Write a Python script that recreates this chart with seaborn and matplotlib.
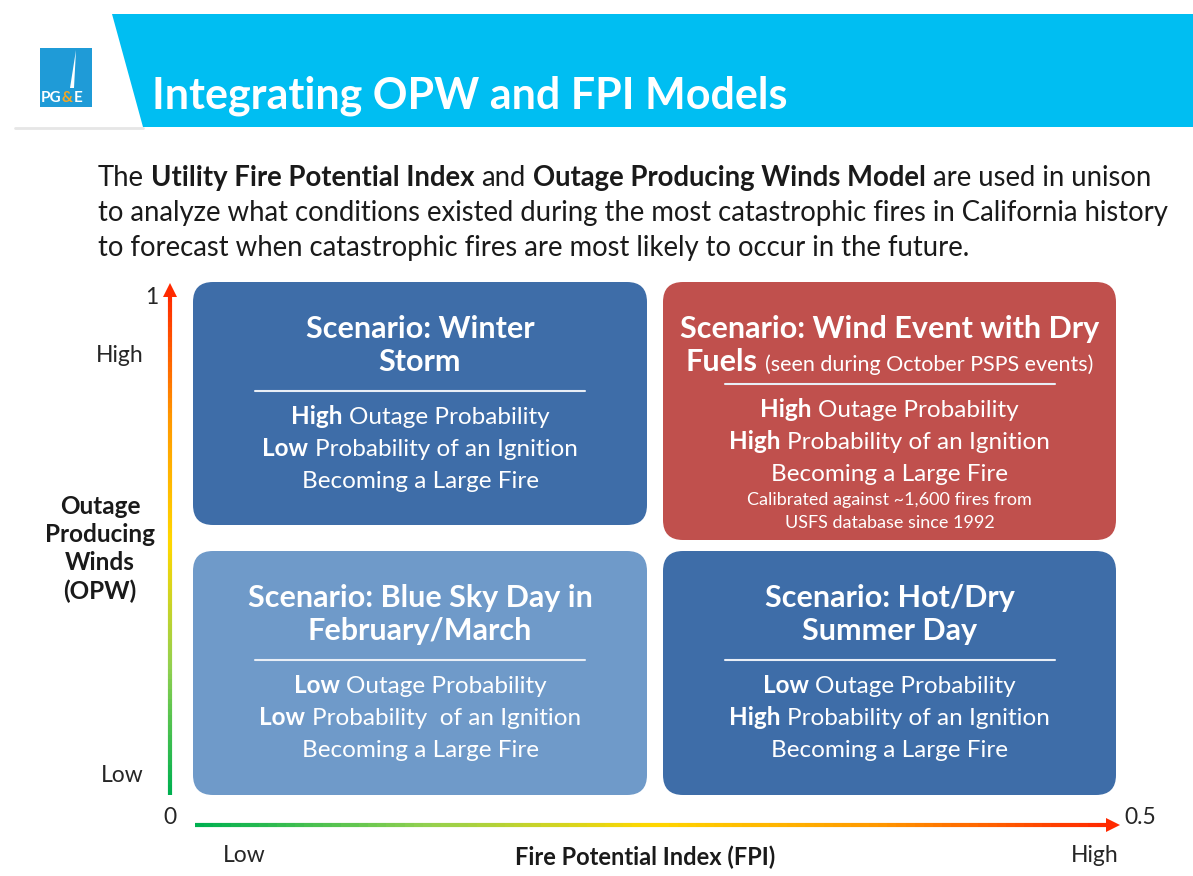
import numpy as np
import matplotlib.pyplot as plt
import seaborn as sns
from matplotlib.patches import FancyBboxPatch, Polygon, Rectangle
from matplotlib.collections import LineCollection

sns.set_style("white")
plt.rcParams['font.family'] = ['Lato', 'DejaVu Sans']

# ---- data ----
title = "Integrating OPW and FPI Models"
intro_lines = [
    [("The ", "normal"), ("Utility Fire Potential Index", "bold"), (" and ", "normal"),
     ("Outage Producing Winds Model", "bold"), (" are used in unison", "normal")],
    [("to analyze what conditions existed during the most catastrophic fires in California history", "normal")],
    [("to forecast when catastrophic fires are most likely to occur in the future.", "normal")],
]
scenario_titles = [
    ["Scenario: Winter", "Storm"],
    ["Scenario: Wind Event with Dry", "Fuels"],
    ["Scenario: Blue Sky Day in", "February/March"],
    ["Scenario: Hot/Dry", "Summer Day"],
]
scenario_notes = ["", "(seen during October PSPS events)", "", ""]
fpi_level = ["Low", "High", "Low", "High"]       # column in the grid
opw_level = ["High", "High", "Low", "Low"]       # row in the grid
outage_prob = ["High", "High", "Low", "Low"]
ignition_prob = ["Low", "High", "Low", "High"]
extra_lines = [[], ["Calibrated against ~1,600 fires from", "USFS database since 1992"], [], []]
box_colors = ["#3E6DA8", "#C0504D", "#6F9AC9", "#3E6DA8"]
x_ticks = ["0", "0.5"]
y_ticks = ["0", "1"]
x_levels = ["Low", "High"]
y_levels = ["Low", "High"]
x_label = "Fire Potential Index (FPI)"
y_label = ["Outage", "Producing", "Winds", "(OPW)"]

W, H = 1193, 876
fig = plt.figure(figsize=(W / 100, H / 100), dpi=100)
ax = fig.add_axes([0, 0, 1, 1])
ax.set_xlim(0, W)
ax.set_ylim(H, 0)
ax.axis('off')
renderer = fig.canvas.get_renderer()


def text_width(s, size, weight):
    t = ax.text(0, 0, s, fontsize=size, fontweight=weight)
    w = t.get_window_extent(renderer).width
    t.remove()
    return w


def run_parts(runs, size):
    sp = text_width("x x", size, "normal") - text_width("xx", size, "normal")
    parts = []
    for s, wgt, sz in runs:
        lead = len(s) - len(s.lstrip(" "))
        trail = len(s) - len(s.rstrip(" "))
        parts.append((s.strip(" "), wgt, sz, lead * sp, trail * sp))
    return parts


def draw_runs(x, y, runs, size, color, ha="left"):
    # y is the visual middle of the capitals; all runs share one baseline
    runs = [(r[0], r[1], r[2] if len(r) > 2 else size) for r in runs]
    parts = run_parts(runs, size)
    total = sum(l + t + (text_width(c, sz, w) if c else 0) for c, w, sz, l, t in parts)
    base = y + 0.36 * size * 100 / 72
    cx = x - total / 2 if ha == "center" else x
    for core, wgt, sz, lead, trail in parts:
        cx += lead
        if core:
            ax.text(cx, base, core, fontsize=sz, fontweight=wgt, color=color,
                    ha="left", va="baseline")
            cx += text_width(core, sz, wgt)
        cx += trail


# ---- header band ----
ax.add_patch(Polygon([[112, 14], [W, 14], [W, 127], [143, 127]], closed=True,
                     facecolor="#00BEF2", edgecolor="none"))
ax.plot([15, 143], [128, 128], color="#E6E6E6", lw=2)
ax.text(152, 96, title, fontsize=31, fontweight="bold", color="white", va="center")

# logo
ax.add_patch(Rectangle((40, 48), 52, 59, facecolor="#1F9BD7", edgecolor="none"))
ax.add_patch(Polygon([[76, 50], [70, 88], [74, 88]], closed=True, facecolor="white", edgecolor="none"))
ax.text(41, 98, "PG", fontsize=11, fontweight="bold", color="white", va="center")
ax.text(62, 98, "&", fontsize=11, fontweight="bold", color="#F5A623", va="center")
ax.text(74, 98, "E", fontsize=11, fontweight="bold", color="white", va="center")

# ---- intro paragraph ----
for i, runs in enumerate(intro_lines):
    draw_runs(98, 176 + 35 * i, runs, 19.8, "#1A1A1A")

# ---- quadrant boxes ----
col_x = {"Low": (193, 647), "High": (663, 1116)}
row_y = {"High": (282, 525), "Low": (551, 795)}
for k in range(4):
    x0, x1 = col_x[fpi_level[k]]
    y0, y1 = row_y[opw_level[k]]
    if extra_lines[k]:
        y1 += 15
    ax.add_patch(FancyBboxPatch((x0 + 20, y0 + 20), x1 - x0 - 40, y1 - y0 - 40,
                                boxstyle="round,pad=20", facecolor=box_colors[k],
                                edgecolor="none"))
    cx = (x0 + x1) / 2
    ty = y0 + 45
    draw_runs(cx, ty, [(scenario_titles[k][0], "bold")], 22, "white", "center")
    if scenario_notes[k]:
        draw_runs(cx, ty + 33, [(scenario_titles[k][1], "bold"), (" " + scenario_notes[k], "normal", 15.5)],
                  22, "white", ha="center")
    else:
        draw_runs(cx, ty + 33, [(scenario_titles[k][1], "bold")], 22, "white", "center")
    line_y = ty + 57 if extra_lines[k] else ty + 64
    ax.plot([cx - 165, cx + 165], [line_y, line_y], color="#E8EEF6", lw=1.5)
    by = line_y + 24
    draw_runs(cx, by, [(outage_prob[k] + " ", "bold"), ("Outage Probability", "normal")], 17.5, "white", "center")
    gap = "  " if k == 2 else " "
    draw_runs(cx, by + 32, [(ignition_prob[k] + " ", "bold"), ("Probability" + gap + "of an Ignition", "normal")],
              17.5, "white", "center")
    draw_runs(cx, by + 64, [("Becoming a Large Fire", "normal")], 17.5, "white", "center")
    for j, s in enumerate(extra_lines[k]):
        draw_runs(cx, by + 90 + 24 * j, [(s, "normal")], 13, "white", "center")

# ---- gradient axes ----
grad = sns.blend_palette(["#00B050", "#92D050", "#FFD700", "#FF9900", "#FF2A00"], n_colors=100)

ys = np.linspace(795, 292, 101)
segs = [[(170, ys[i]), (170, ys[i + 1])] for i in range(100)]
ax.add_collection(LineCollection(segs, colors=grad, linewidths=3, capstyle="butt"))
ax.add_patch(Polygon([[170, 283], [163, 297], [177, 297]], closed=True, facecolor=grad[-1], edgecolor="none"))

xs = np.linspace(195, 1106, 101)
segs = [[(xs[i], 825), (xs[i + 1], 825)] for i in range(100)]
ax.add_collection(LineCollection(segs, colors=grad, linewidths=3, capstyle="butt"))
ax.add_patch(Polygon([[1120, 825], [1106, 818], [1106, 832]], closed=True, facecolor=grad[-1], edgecolor="none"))

tick_color = "#262626"
ax.text(152, 297, y_ticks[1], fontsize=16.5, color=tick_color, ha="center", va="center")
ax.text(170, 817, y_ticks[0], fontsize=16.5, color=tick_color, ha="center", va="center")
ax.text(1140, 817, x_ticks[1], fontsize=16.5, color=tick_color, ha="center", va="center")
ax.text(120, 355, y_levels[1], fontsize=16.5, color=tick_color, ha="center", va="center")
ax.text(122, 775, y_levels[0], fontsize=16.5, color=tick_color, ha="center", va="center")
ax.text(244, 856, x_levels[0], fontsize=16.5, color=tick_color, ha="center", va="center")
ax.text(1095, 856, x_levels[1], fontsize=16.5, color=tick_color, ha="center", va="center")
ax.text(645, 857, x_label, fontsize=17, fontweight="bold", color="#1A1A1A", ha="center", va="center")
for i, s in enumerate(y_label):
    ax.text(100, 507 + 28 * i, s, fontsize=17.5, fontweight="bold", color="#1A1A1A", ha="center", va="center")

fig.savefig("out.png", dpi=100)
